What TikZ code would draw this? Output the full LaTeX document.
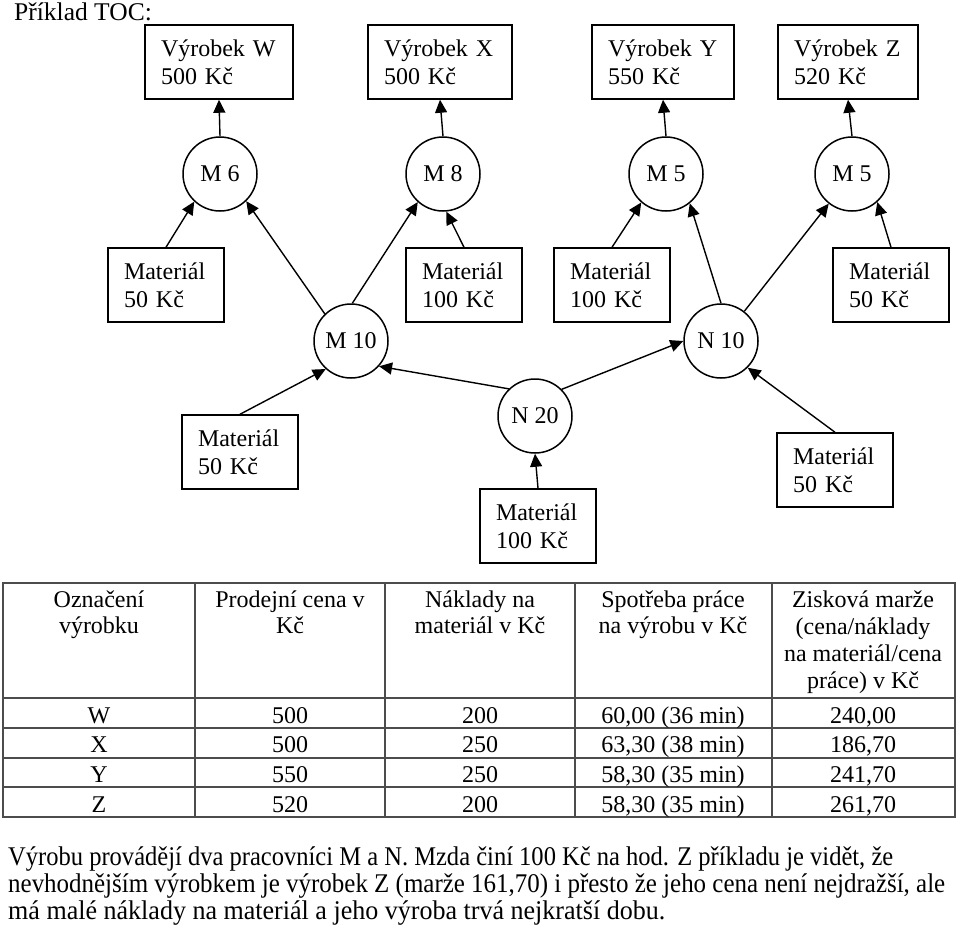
\documentclass[tikz,border=0pt]{standalone}
\usepackage{fontspec}
\setmainfont{Liberation Serif}
\usetikzlibrary{arrows.meta}
\begin{document}
\begin{tikzpicture}[x=1pt,y=-1pt,
  every node/.style={font=\fontsize{24}{28}\selectfont, inner sep=0pt},
  prodbox/.style={draw, line width=1.5pt, minimum height=74pt, align=left, inner xsep=16pt},
  matbox/.style={draw, line width=1.5pt, minimum height=74pt, text width=84pt, align=left, inner xsep=16pt},
  wcircle/.style={draw, circle, line width=1.5pt, minimum size=74pt},
  flow/.style={-{Triangle[length=13pt,width=12pt]}, line width=1.4pt},
  cell/.style={anchor=base},
  grid/.style={line width=1.1pt, draw=black!70},
  note/.style={anchor=base west, font=\fontsize{27}{30}\selectfont}]
\useasboundingbox (0,0) rectangle (960,932);

\node[anchor=base west, font=\fontsize{25.5}{28}\selectfont] (title) at (14,20) {Příklad TOC:};

% products
\node[prodbox, text width=116pt] (W) at (219,62) {Výrobek W\\500 Kč};
\node[prodbox, text width=112pt] (X) at (440,62) {Výrobek X\\500 Kč};
\node[prodbox, text width=110pt] (Y) at (663,62) {Výrobek Y\\550 Kč};
\node[prodbox, text width=108pt] (Z) at (848,62) {Výrobek Z\\520 Kč};

% first operations
\node[wcircle] (M6) at (220,174) {M 6};
\node[wcircle] (M8) at (443,174) {M 8};
\node[wcircle] (M5a) at (666,174) {M 5};
\node[wcircle] (M5b) at (852,174) {M 5};

% materials row 2
\node[matbox] (MatA) at (166,285) {Materiál\\50 Kč};
\node[matbox] (MatB) at (464,285) {Materiál\\100 Kč};
\node[matbox] (MatC) at (612,285) {Materiál\\100 Kč};
\node[matbox] (MatD) at (891,285) {Materiál\\50 Kč};

\node[wcircle] (M10) at (351,341) {M 10};
\node[wcircle] (N10) at (721,341) {N 10};

% row 3
\node[matbox] (MatE) at (240,452) {Materiál\\50 Kč};
\node[wcircle] (N20) at (535,416) {N 20};
\node[matbox] (MatF) at (538,526) {Materiál\\100 Kč};
\node[matbox] (MatG) at (835,470) {Materiál\\50 Kč};

% connectors
\draw[flow] (M6.north) -- (W.south);
\draw[flow] (M8.north) -- (X.south);
\draw[flow] (M5a.north) -- (Y.south);
\draw[flow] (M5b.north) -- (Z.south);

\draw[flow] (MatA.north) -- (M6.-133);
\draw[flow] (M10.134) -- (M6.-46);
\draw[flow] (M10.88) -- (M8.-132);
\draw[flow] (MatB.north) -- (M8.-85);
\draw[flow] (MatC.north) -- (M5a.-131);
\draw[flow] (N10.north) -- (M5a.-51);
\draw[flow] (N10) -- (M5b);
\draw[flow] (MatD.north) -- (M5b.-48);

\draw[flow] (MatE.north) -- (M10.-132);
\draw[flow] (N20.134) -- (M10.-42);
\draw[flow] (N20.45) -- (N10.180);
\draw[flow] (MatF.north) -- (N20.south);
\draw[flow] (MatG.north) -- (N10.-45);

% table grid
\draw[grid] (3,583) rectangle (955,817);
\foreach \yy in {698,728,758,787} \draw[grid] (3,\yy) -- (955,\yy);
\foreach \xx in {195,385,575,772} \draw[grid] (\xx,583) -- (\xx,817);

% header
\node[cell] (h11) at (99,607) {Označení};
\node[cell] (h12) at (99,633) {výrobku};
\node[cell] (h21) at (290,607) {Prodejní cena v};
\node[cell] (h22) at (290,633) {Kč};
\node[cell] (h31) at (480,607) {Náklady na};
\node[cell] (h32) at (480,633) {materiál v Kč};
\node[cell] (h41) at (673,607) {Spotřeba práce};
\node[cell] (h42) at (673,633) {na výrobu v Kč};
\node[cell] (h51) at (863,607) {Zisková marže};
\node[cell] (h52) at (863,634) {(cena/náklady};
\node[cell] (h53) at (863,661) {na materiál/cena};
\node[cell] (h54) at (863,688) {práce) v Kč};

% rows
\foreach \nm/\yy/\a/\b/\c/\d/\e in {
  r1/723/W/500/200/{60,00 (36 min)}/{240,00},
  r2/752/X/500/250/{63,30 (38 min)}/{186,70},
  r3/782/Y/550/250/{58,30 (35 min)}/{241,70},
  r4/812/Z/520/200/{58,30 (35 min)}/{261,70}}{
  \node[cell] (\nm a) at (99,\yy) {\a};
  \node[cell] (\nm b) at (290,\yy) {\b};
  \node[cell] (\nm c) at (480,\yy) {\c};
  \node[cell] (\nm d) at (673,\yy) {\d};
  \node[cell] (\nm e) at (863,\yy) {\e};
}

% bottom text
\node[note] (t1) at (8,865) {\resizebox{885pt}{\height}{Výrobu provádějí dva pracovníci M a N. Mzda činí 100 Kč na hod. Z příkladu je vidět, že}};
\node[note] (t2) at (8,892) {\resizebox{937pt}{\height}{nevhodnějším výrobkem je výrobek Z (marže 161,70) i přesto že jeho cena není nejdražší, ale}};
\node[note] (t3) at (8,919) {\resizebox{657pt}{\height}{má malé náklady na materiál a jeho výroba trvá nejkratší dobu.}};
\end{tikzpicture}
\end{document}
